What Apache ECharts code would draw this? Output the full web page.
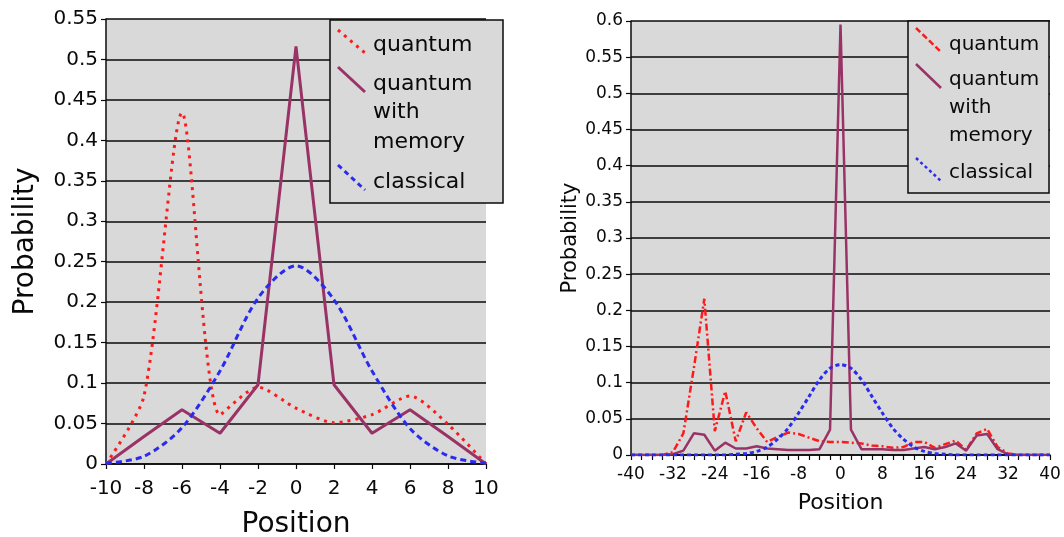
<!DOCTYPE html>
<html>
<head>
<meta charset="utf-8">
<script src="https://cdn.jsdelivr.net/npm/echarts@6/dist/echarts.min.js"></script>
<style>
  html, body { margin: 0; padding: 0; background: #fff; }
  #chart { width: 1064px; height: 537px; }
</style>
</head>
<body>
<div id="chart"></div>
<script>
// left chart: 10 steps
const posL = [-10, -8, -6, -4, -2, 0, 2, 4, 6, 8, 10];
const quantumL = [0, 0.084, 0.434, 0.061, 0.095, 0.069, 0.051, 0.061, 0.084, 0.049, 0];
const memoryL = [0, 0.034, 0.067, 0.038, 0.098, 0.516, 0.098, 0.038, 0.067, 0.034, 0];
const classicalL = [0.001, 0.0095, 0.045, 0.115, 0.205, 0.245, 0.203, 0.115, 0.044, 0.01, 0.001];

// right chart: 40 steps
const posR = [-40, -38, -36, -34, -32, -30, -28, -26, -24, -22, -20, -18, -16, -14, -12, -10, -8, -6, -4, -2,
  0, 2, 4, 6, 8, 10, 12, 14, 16, 18, 20, 22, 24, 26, 28, 30, 32, 34, 36, 38, 40];
const quantumR = [0, 0, 0, 0, 0.004, 0.03, 0.12, 0.216, 0.033, 0.088, 0.019, 0.059, 0.037, 0.018, 0.025, 0.031,
  0.029, 0.024, 0.019, 0.018, 0.018, 0.017, 0.016, 0.013, 0.012, 0.01, 0.011, 0.018, 0.018, 0.01, 0.015, 0.02,
  0.007, 0.03, 0.036, 0.011, 0.002, 0, 0, 0, 0];
const memoryR = [0, 0, 0, 0, 0.001, 0.006, 0.03, 0.028, 0.006, 0.017, 0.009, 0.009, 0.012, 0.009, 0.008, 0.007,
  0.007, 0.007, 0.008, 0.035, 0.595, 0.035, 0.008, 0.008, 0.008, 0.007, 0.007, 0.009, 0.011, 0.008, 0.011, 0.016,
  0.006, 0.027, 0.029, 0.008, 0.001, 0, 0, 0, 0];
const classicalR = [0, 0, 0, 0, 0, 0, 0, 0, 0, 0, 0.001, 0.002, 0.005, 0.011, 0.022, 0.037, 0.058, 0.081, 0.104, 0.12,
  0.125, 0.12, 0.104, 0.081, 0.058, 0.037, 0.022, 0.011, 0.005, 0.002, 0.001, 0, 0, 0, 0, 0, 0, 0, 0, 0, 0];

const seriesNames = ['quantum', 'quantum\nwith\nmemory', 'classical'];

const FONT = '"DejaVu Sans", Verdana, sans-serif';
const RED = '#ff1a1a';
const PURPLE = '#993366';
const BLUE = '#2b2bf0';
const INK = '#0a0a0a';

const pairs = (xs, ys) => xs.map((x, i) => [x, ys[i]]);

function xAxisOf(grid, min, max, interval, fs, margin, nameFs, nameGap, minor) {
  return {
    gridIndex: grid, type: 'value', min: min, max: max, interval: interval,
    name: 'Position', nameLocation: 'middle', nameGap: nameGap,
    nameTextStyle: { fontSize: nameFs, color: INK, fontFamily: FONT },
    axisLine: { show: true, onZero: false, lineStyle: { color: INK, width: 1.5 } },
    axisTick: { show: true, length: 5, lineStyle: { color: INK, width: 1.2 } },
    minorTick: { show: !!minor, splitNumber: 4, length: 5, lineStyle: { color: INK, width: 1.2 } },
    axisLabel: { fontSize: fs, color: INK, fontFamily: FONT, margin: margin },
    splitLine: { show: false }
  };
}

function yAxisOf(grid, max, fs, nameFs, nameGap) {
  return {
    gridIndex: grid, type: 'value', min: 0, max: max, interval: 0.05,
    name: 'Probability', nameLocation: 'middle', nameGap: nameGap, nameRotate: 90,
    nameTextStyle: { fontSize: nameFs, color: INK, fontFamily: FONT },
    axisLine: { show: true, onZero: false, lineStyle: { color: INK, width: 1.5 } },
    axisTick: { show: true, length: 5, lineStyle: { color: INK, width: 1.2 } },
    axisLabel: { fontSize: fs, color: INK, fontFamily: FONT, margin: 8 },
    splitLine: { show: true, lineStyle: { color: INK, width: 1.6 } }
  };
}

function line(name, grid, xs, ys, color, width, dash, smooth) {
  return {
    name: name, type: 'line', xAxisIndex: grid, yAxisIndex: grid,
    data: pairs(xs, ys), symbol: 'none', smooth: smooth || false,
    color: color,
    lineStyle: { color: color, width: width, type: dash, cap: 'butt' }
  };
}

// legend box drawn by hand (diagonal keys like the original)
function legendBox(box, fs, textX, items) {
  const els = [{
    type: 'rect', shape: { x: box[0], y: box[1], width: box[2], height: box[3] },
    style: { fill: '#d9d9d9', stroke: INK, lineWidth: 1.5 }, z: 10
  }];
  items.forEach(it => {
    els.push({
      type: 'line', z: 11,
      shape: { x1: it.icon[0], y1: it.icon[1], x2: it.icon[2], y2: it.icon[3] },
      style: { stroke: it.color, lineWidth: it.width, lineDash: it.dash }
    });
    it.lines.forEach(l => {
      els.push({
        type: 'text', z: 11,
        style: { text: l[0], x: textX, y: l[1] - fs * 0.35, font: fs + 'px ' + FONT, fill: INK, verticalAlign: 'middle' }
      });
    });
  });
  return els;
}

const chart = echarts.init(document.getElementById('chart'));
chart.setOption({
  animation: false,
  backgroundColor: '#fff',
  grid: [
    { left: 106, top: 19, width: 380, height: 445, outerBoundsMode: 'none', show: true, backgroundColor: '#d9d9d9', borderWidth: 0 },
    { left: 631, top: 21, width: 419, height: 434, outerBoundsMode: 'none', show: true, backgroundColor: '#d9d9d9', borderWidth: 0 }
  ],
  xAxis: [
    xAxisOf(0, -10, 10, 2, 20, 15, 28, 47, false),
    xAxisOf(1, -40, 40, 8, 17, 11, 22, 37, true)
  ],
  yAxis: [
    yAxisOf(0, 0.55, 20, 28, 66),
    yAxisOf(1, 0.6, 17, 21, 45)
  ],
  series: [
    line(seriesNames[0], 0, posL, quantumL, RED, 3, [3, 5], 0.25),
    line(seriesNames[1], 0, posL, memoryL, PURPLE, 3, 'solid'),
    line(seriesNames[2], 0, posL, classicalL, BLUE, 3, [6, 4], 0.3),
    line(seriesNames[0], 1, posR, quantumR, RED, 2.5, [7, 3, 2, 3]),
    line(seriesNames[1], 1, posR, memoryR, PURPLE, 2.5, 'solid'),
    line(seriesNames[2], 1, posR, classicalR, BLUE, 3, [4, 3], 0.3)
  ],
  graphic: [].concat(
    legendBox([330, 20, 173, 183], 22, 373, [
      { icon: [338, 30, 365, 53], color: RED, width: 3, dash: [3, 5], lines: [['quantum', 53]] },
      { icon: [338, 67, 365, 92], color: PURPLE, width: 3, dash: null, lines: [['quantum', 92], ['with', 120], ['memory', 150]] },
      { icon: [338, 165, 365, 190], color: BLUE, width: 3, dash: [5, 4], lines: [['classical', 190]] }
    ]),
    legendBox([908, 21, 141, 172], 20, 949, [
      { icon: [916, 28, 941, 52], color: RED, width: 2.5, dash: [6, 3], lines: [['quantum', 52]] },
      { icon: [916, 64, 941, 88], color: PURPLE, width: 2.5, dash: null, lines: [['quantum', 87], ['with', 115], ['memory', 143]] },
      { icon: [916, 158, 941, 181], color: BLUE, width: 2.5, dash: [3, 3], lines: [['classical', 180]] }
    ])
  )
});
</script>
</body>
</html>
